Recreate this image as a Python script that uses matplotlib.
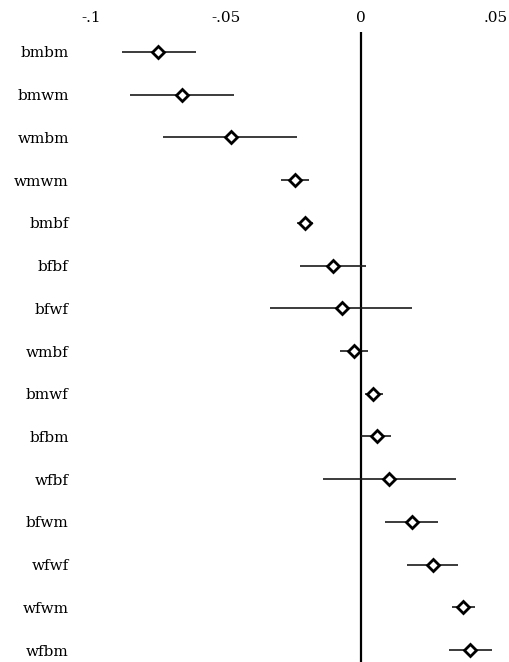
import matplotlib
matplotlib.use("Agg")
import matplotlib.pyplot as plt

labels = ["bmbm", "bmwm", "wmbm", "wmwm", "bmbf", "bfbf", "bfwf", "wmbf",
          "bmwf", "bfbm", "wfbf", "bfwm", "wfwf", "wfwm", "wfbm"]
estimates = [-0.0752, -0.0664, -0.0483, -0.0244, -0.0207, -0.0105, -0.0071, -0.0025,
             0.0046, 0.0058, 0.0105, 0.0188, 0.0265, 0.0379, 0.0404]
lower = [-0.0886, -0.0856, -0.0732, -0.0296, -0.0237, -0.0226, -0.0337, -0.0078,
         0.0015, 0.0000, -0.0140, 0.0089, 0.0171, 0.0336, 0.0326]
upper = [-0.0611, -0.0470, -0.0236, -0.0191, -0.0178, 0.0017, 0.0190, 0.0027,
         0.0083, 0.0111, 0.0352, 0.0286, 0.0361, 0.0422, 0.0486]
xticks = [-0.1, -0.05, 0, 0.05]
xticklabels = ["-.1", "-.05", "0", ".05"]

plt.rcParams['font.family'] = ['DejaVu Serif']

fig = plt.figure(figsize=(5.09, 6.62), dpi=100)
W, H = 509, 662
left_px, right_px, top_px, bottom_px = 75, 509, 32, 662
ax = fig.add_axes([left_px / W, 1 - bottom_px / H, (right_px - left_px) / W, (bottom_px - top_px) / H])

ypos = list(range(len(labels)))
for y, lo, hi in zip(ypos, lower, upper):
    ax.plot([lo, hi], [y, y], color="#1a1a1a", lw=1.2, solid_capstyle="butt", zorder=2)
ax.plot(estimates, ypos, linestyle="none", marker="D", markersize=6.5,
        markerfacecolor="white", markeredgecolor="black", markeredgewidth=2.0, zorder=3)
ax.axvline(0, color="black", lw=1.6, zorder=1)

ax.set_xlim((left_px - 361) / 2700, (right_px - 361) / 2700)
ax.set_ylim(14.28, -0.468)
ax.set_yticks(ypos)
ax.set_yticklabels(labels, fontsize=11)
ax.set_xticks(xticks)
ax.set_xticklabels(xticklabels, fontsize=11)
ax.xaxis.tick_top()
ax.tick_params(axis="both", length=0)
ax.tick_params(axis="x", pad=5)
ax.tick_params(axis="y", pad=4.5)
for s in ax.spines.values():
    s.set_visible(False)

fig.savefig("out.png", dpi=100)
